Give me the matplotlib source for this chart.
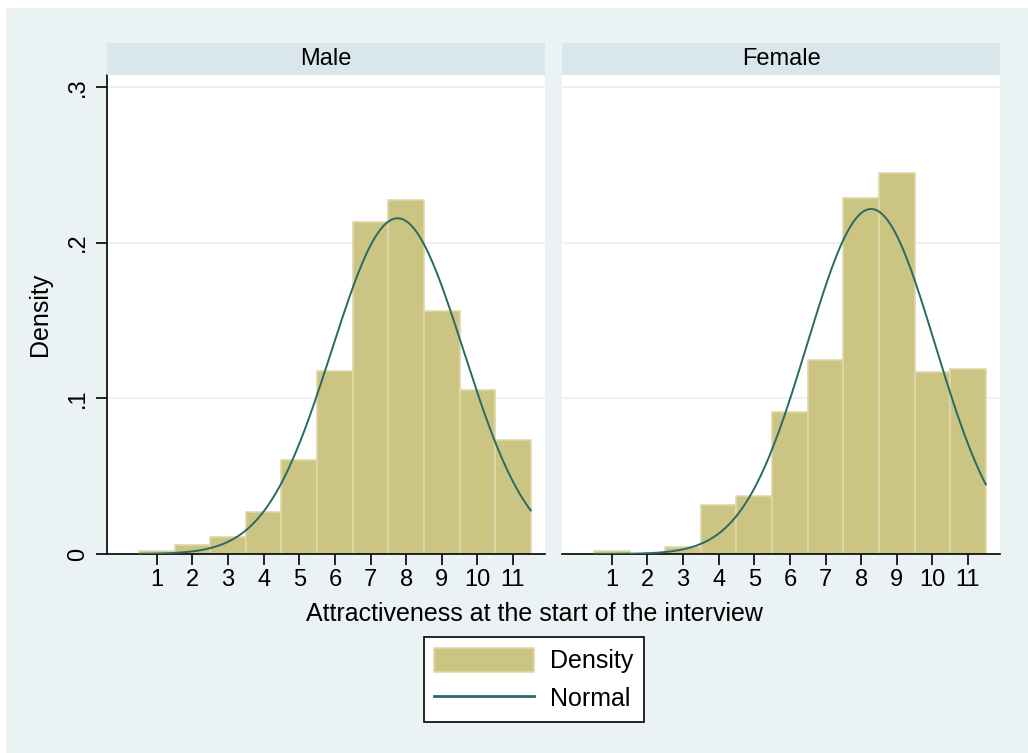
import numpy as np
import matplotlib
matplotlib.use('Agg')
import matplotlib.pyplot as plt
from matplotlib.patches import Rectangle, Patch
from matplotlib.lines import Line2D

plt.rcParams['font.family'] = ['Liberation Sans', 'DejaVu Sans']

# --- data ---
bins = [1, 2, 3, 4, 5, 6, 7, 8, 9, 10, 11]
male_density = [0.0022, 0.0055, 0.0109, 0.0268, 0.0603, 0.1177, 0.2131, 0.2275, 0.1561, 0.1053, 0.0732]
female_density = [0.0022, 0.0003, 0.0042, 0.0315, 0.0373, 0.0914, 0.1244, 0.2288, 0.2446, 0.1166, 0.1188]
male_mean, male_sd = 7.76, 1.85
female_mean, female_sd = 8.28, 1.80
panels = ['Male', 'Female']
yticks = [0, 0.1, 0.2, 0.3]
ytick_labels = ['0', '.1', '.2', '.3']

bg = '#EAF2F3'
strip_col = '#D9E6EB'
bar_col = '#CCC482'
bar_edge = '#DFD8A8'
line_col = '#2A6A66'

W, H = 1028, 753
fig = plt.figure(figsize=(W / 100, H / 100), dpi=100, facecolor='white')
fig.patches.append(Rectangle((6 / W, 0), 1, 1 - 8 / H, transform=fig.transFigure,
                             facecolor=bg, edgecolor='none', zorder=-10))

lefts = [107, 562]
width = 438
bottom, top = 554, 75
data = [(male_density, male_mean, male_sd), (female_density, female_mean, female_sd)]

for i, (dens, mu, sd) in enumerate(data):
    ax = fig.add_axes([lefts[i] / W, 1 - bottom / H, width / W, (bottom - top) / H])
    ax.set_facecolor('white')
    ax.bar(bins, dens, width=1.0, color=bar_col, edgecolor=bar_edge, linewidth=1.2, zorder=2)
    xs = np.linspace(0.5, 11.5, 300)
    ys = np.exp(-0.5 * ((xs - mu) / sd) ** 2) / (sd * np.sqrt(2 * np.pi))
    ax.plot(xs, ys, color=line_col, linewidth=1.4, zorder=3)
    ax.set_xlim(-0.4, 11.9)
    ax.set_ylim(0, 0.3077)
    for g in yticks[1:]:
        ax.axhline(g, color=bg, linewidth=1.5, zorder=1)
    ax.set_xticks(bins)
    ax.set_xticklabels([str(b) for b in bins])
    ax.tick_params(axis='x', length=8, width=1.2, labelsize=17, pad=3, direction='out')
    for s in ['top', 'right']:
        ax.spines[s].set_visible(False)
    ax.spines['bottom'].set_linewidth(1.2)
    if i == 0:
        ax.set_yticks(yticks)
        ax.set_yticklabels(ytick_labels, rotation=90, va='center')
        ax.tick_params(axis='y', length=8, width=1.2, labelsize=17, pad=5)
        ax.spines['left'].set_linewidth(1.2)
        ax.set_ylabel('Density', fontsize=18, labelpad=11)
    else:
        ax.spines['left'].set_visible(False)
        ax.set_yticks([])

    sax = fig.add_axes([lefts[i] / W, 1 - 75 / H, width / W, 32 / H])
    sax.set_facecolor(strip_col)
    sax.set_xticks([])
    sax.set_yticks([])
    for s in sax.spines.values():
        s.set_visible(False)
    sax.text(0.5, 0.5, panels[i], ha='center', va='center', fontsize=17, transform=sax.transAxes)

fig.text(534 / W, 1 - 614 / H, 'Attractiveness at the start of the interview',
         ha='center', va='center', fontsize=18)

handles = [Patch(facecolor=bar_col, edgecolor=bar_edge, linewidth=1.2),
           Line2D([0], [0], color=line_col, linewidth=2)]
leg = fig.legend(handles, ['Density', 'Normal'], loc='center', bbox_to_anchor=(534 / W, 1 - 679.5 / H),
                 fontsize=18, frameon=True, fancybox=False, edgecolor='black', facecolor='white',
                 handlelength=4.0, handleheight=1.12, handletextpad=0.65, labelspacing=0.5,
                 borderpad=0.42, borderaxespad=0)
leg.get_frame().set_linewidth(1.2)
leg.get_frame().set_alpha(1)

fig.savefig('out.png', dpi=100, facecolor=fig.get_facecolor())
